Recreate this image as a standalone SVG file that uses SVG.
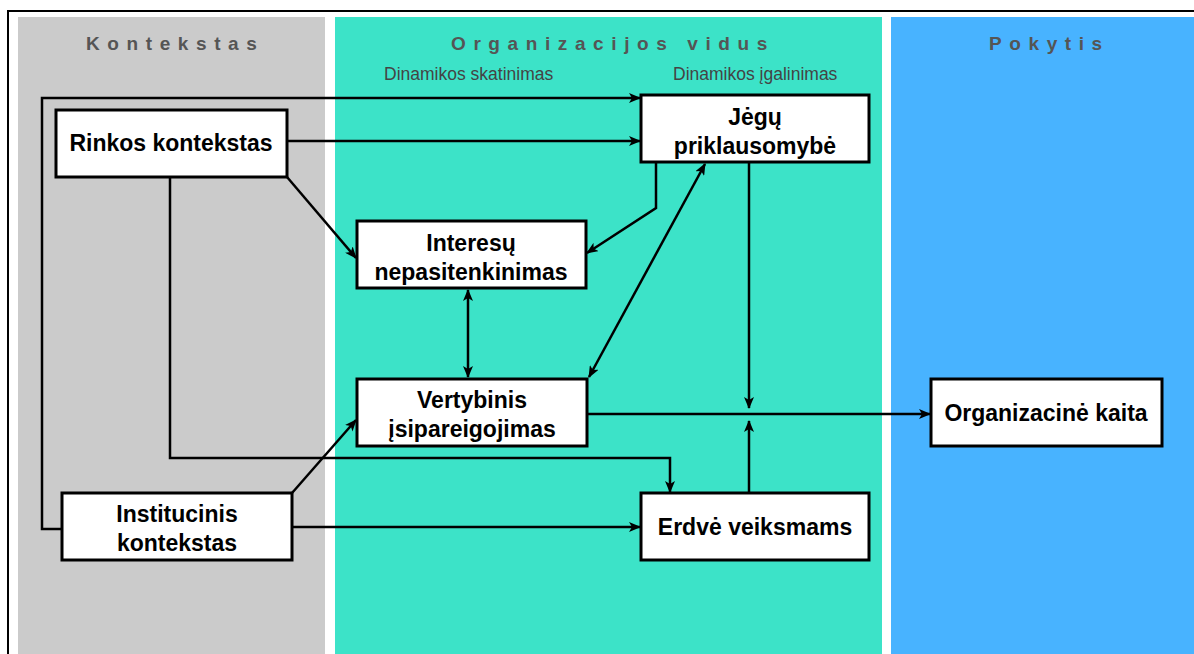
<svg xmlns="http://www.w3.org/2000/svg" width="1194" height="654" viewBox="0 0 1194 654">
<style>
.hdr{font-family:"Liberation Sans",Arial,sans-serif;font-weight:bold;font-size:19px;fill:#555;letter-spacing:7.6px}
.sub{font-family:"Liberation Sans",Arial,sans-serif;font-size:17.5px;fill:#444}
.box{fill:#fff;stroke:#000;stroke-width:3}
.lbl{font-family:"Liberation Sans",Arial,sans-serif;font-weight:bold;font-size:23px;fill:#000;text-anchor:middle}
.con{fill:none;stroke:#000;stroke-width:2.5}
</style>
<defs>
<marker id="ah" viewBox="0 0 12 10" refX="11" refY="5" markerWidth="12" markerHeight="10" markerUnits="userSpaceOnUse" orient="auto-start-reverse">
<path d="M0,0 L12,5 L0,10 L3,5 z" fill="#000"/>
</marker>
</defs>
<rect x="0" y="0" width="1194" height="654" fill="#fff"/>
<path d="M8,654 V11 H1194" fill="none" stroke="#000" stroke-width="2"/>
<rect x="18" y="17" width="307" height="637" fill="#cbcbcb"/>
<rect x="335" y="17" width="547" height="637" fill="#3ce3c8"/>
<rect x="891" y="17" width="303" height="637" fill="#48b3ff"/>
<text class="hdr" x="86" y="50">Kontekstas</text>
<text class="hdr" x="451" y="50">Organizacijos vidus</text>
<text class="hdr" x="989" y="50">Pokytis</text>
<text class="sub" x="384" y="80">Dinamikos skatinimas</text>
<text class="sub" x="673" y="80">Dinamikos įgalinimas</text>
<g id="connectors">
<path class="con" d="M62,529 H42 V98 H640" marker-end="url(#ah)"/>
<path class="con" d="M287,141 H640" marker-end="url(#ah)"/>
<path class="con" d="M287,177 L356,258" marker-end="url(#ah)"/>
<path class="con" d="M170,177 V458 H670 V492" marker-end="url(#ah)"/>
<path class="con" d="M656,163 V208 L587,253" marker-end="url(#ah)"/>
<path class="con" d="M705,164 L589,377" marker-start="url(#ah)" marker-end="url(#ah)"/>
<path class="con" d="M749,163 V408" marker-end="url(#ah)"/>
<path class="con" d="M468,290 V377" marker-start="url(#ah)" marker-end="url(#ah)"/>
<path class="con" d="M588,414 H930" marker-end="url(#ah)"/>
<path class="con" d="M749,492 V421" marker-end="url(#ah)"/>
<path class="con" d="M292,493 L356,420" marker-end="url(#ah)"/>
<path class="con" d="M292,527 H640" marker-end="url(#ah)"/>
</g>
<g id="rinkos"><rect class="box" x="56" y="110" width="231" height="67"/><text class="lbl" x="171" y="151">Rinkos kontekstas</text></g>
<g id="jegu"><rect class="box" x="641" y="95" width="228" height="67"/><text class="lbl" x="755" y="125">Jėgų</text><text class="lbl" x="755" y="154">priklausomybė</text></g>
<g id="interesu"><rect class="box" x="357" y="221" width="229" height="67"/><text class="lbl" x="471" y="251">Interesų</text><text class="lbl" x="471" y="280">nepasitenkinimas</text></g>
<g id="vertybinis"><rect class="box" x="357" y="379" width="230" height="67"/><text class="lbl" x="472" y="408">Vertybinis</text><text class="lbl" x="472" y="437">įsipareigojimas</text></g>
<g id="institucinis"><rect class="box" x="62" y="493" width="230" height="67"/><text class="lbl" x="177" y="522">Institucinis</text><text class="lbl" x="177" y="551">kontekstas</text></g>
<g id="erdve"><rect class="box" x="641" y="493" width="228" height="67"/><text class="lbl" x="755" y="535">Erdvė veiksmams</text></g>
<g id="organizacine"><rect class="box" x="931" y="379" width="231" height="67"/><text class="lbl" x="1046" y="421">Organizacinė kaita</text></g>
</svg>
